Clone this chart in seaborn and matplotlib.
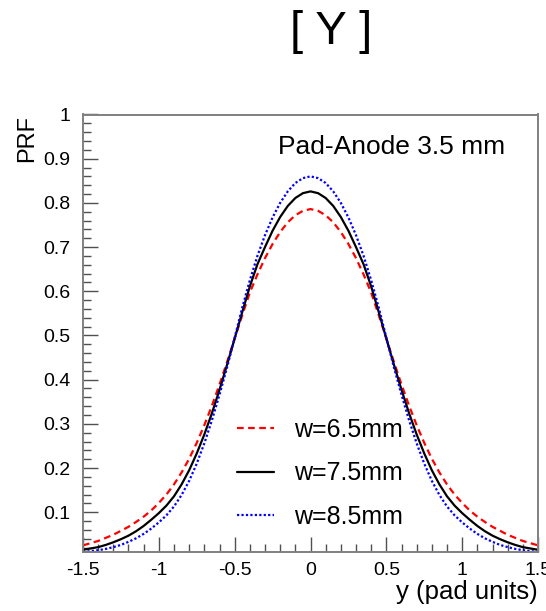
import numpy as np
import pandas as pd
import matplotlib
matplotlib.use("Agg")
import matplotlib.pyplot as plt
from matplotlib.ticker import MultipleLocator, FuncFormatter
import seaborn as sns

# ---- data ----
y_pos = [-1.50, -1.45, -1.40, -1.35, -1.30, -1.25, -1.20, -1.15, -1.10, -1.05,
         -1.00, -0.95, -0.90, -0.85, -0.80, -0.75, -0.70, -0.65, -0.60, -0.55,
         -0.50, -0.45, -0.40, -0.35, -0.30, -0.25, -0.20, -0.15, -0.10, -0.05,
         0.00,
         0.05, 0.10, 0.15, 0.20, 0.25, 0.30, 0.35, 0.40, 0.45, 0.50,
         0.55, 0.60, 0.65, 0.70, 0.75, 0.80, 0.85, 0.90, 0.95, 1.00,
         1.05, 1.10, 1.15, 1.20, 1.25, 1.30, 1.35, 1.40, 1.45, 1.50]

prf_w65 = [0.025, 0.030, 0.035, 0.042, 0.049, 0.058, 0.067, 0.078, 0.090, 0.104,
           0.121, 0.140, 0.163, 0.190, 0.221, 0.257, 0.297, 0.341, 0.389, 0.440,
           0.493, 0.546, 0.597, 0.638, 0.675, 0.707, 0.734, 0.756, 0.772, 0.782,
           0.786,
           0.782, 0.772, 0.756, 0.734, 0.707, 0.675, 0.638, 0.597, 0.546, 0.493,
           0.440, 0.389, 0.341, 0.297, 0.257, 0.221, 0.190, 0.163, 0.140, 0.121,
           0.104, 0.090, 0.078, 0.067, 0.058, 0.049, 0.042, 0.035, 0.030, 0.025]

prf_w75 = [0.015, 0.018, 0.021, 0.026, 0.032, 0.039, 0.047, 0.057, 0.069, 0.083,
           0.098, 0.115, 0.136, 0.163, 0.195, 0.233, 0.276, 0.324, 0.377, 0.434,
           0.493, 0.553, 0.611, 0.661, 0.700, 0.737, 0.768, 0.793, 0.811, 0.822,
           0.826,
           0.822, 0.811, 0.793, 0.768, 0.737, 0.700, 0.661, 0.611, 0.553, 0.493,
           0.434, 0.377, 0.324, 0.276, 0.233, 0.195, 0.163, 0.136, 0.115, 0.098,
           0.083, 0.069, 0.057, 0.047, 0.039, 0.032, 0.026, 0.021, 0.018, 0.015]

prf_w85 = [0.010, 0.012, 0.014, 0.017, 0.021, 0.026, 0.033, 0.041, 0.051, 0.063,
           0.077, 0.093, 0.113, 0.139, 0.171, 0.210, 0.256, 0.308, 0.366, 0.428,
           0.495, 0.563, 0.625, 0.680, 0.727, 0.767, 0.800, 0.826, 0.845, 0.856,
           0.860,
           0.856, 0.845, 0.826, 0.800, 0.767, 0.727, 0.680, 0.625, 0.563, 0.495,
           0.428, 0.366, 0.308, 0.256, 0.210, 0.171, 0.139, 0.113, 0.093, 0.077,
           0.063, 0.051, 0.041, 0.033, 0.026, 0.021, 0.017, 0.014, 0.012, 0.010]

series_labels = ["w=6.5mm", "w=7.5mm", "w=8.5mm"]
title_text = "[ Y ]"
annotation = "Pad-Anode 3.5 mm"
x_label = "y (pad units)"
y_label = "PRF"

# ---- style ----
sns.set_style("white")
plt.rcParams["font.family"] = ["Liberation Sans", "DejaVu Sans"]
plt.rcParams["axes.unicode_minus"] = False
plt.rcParams["text.color"] = "black"
plt.rcParams["axes.labelcolor"] = "black"

fig = plt.figure(figsize=(5.46, 6.11), dpi=100)
ax = fig.add_axes([83 / 546, 1 - 552 / 611, 455 / 546, (552 - 114.5) / 611])

colors = ["#ff0000", "#000000", "#0000ff"]
styles = [(0, (3, 2)), "-", (0, (1, 1))]
widths = [1.6, 1.6, 1.6]

for vals, lab, c, ls, lw in zip([prf_w65, prf_w75, prf_w85], series_labels, colors, styles, widths):
    df = pd.DataFrame({"y": y_pos, "prf": vals})
    sns.lineplot(data=df, x="y", y="prf", ax=ax, color=c, linestyle=ls,
                 linewidth=lw, label=lab, estimator=None, sort=False)

ax.set_xlim(-1.5, 1.5)
ax.set_ylim(0.01, 1.0)

ax.xaxis.set_major_locator(MultipleLocator(0.5))
ax.xaxis.set_minor_locator(MultipleLocator(0.1))
ax.yaxis.set_major_locator(MultipleLocator(0.1))
ax.yaxis.set_minor_locator(MultipleLocator(0.02))


def fmt(v, pos):
    s = f"{v:.1f}"
    if s.endswith(".0"):
        s = s[:-2]
    if s == "-0":
        s = "0"
    return s


ax.xaxis.set_major_formatter(FuncFormatter(fmt))
ax.yaxis.set_major_formatter(FuncFormatter(fmt))

ax.tick_params(axis="both", which="both", direction="in", top=False, right=False,
               bottom=True, left=True,
               color="#505050", labelsize=14, labelcolor="black")
ax.tick_params(axis="both", which="major", length=11, width=1.0)
ax.tick_params(axis="both", which="minor", length=6, width=1.0)
ax.xaxis.set_tick_params(pad=7)
ax.yaxis.set_tick_params(pad=9)

for sp in ax.spines.values():
    sp.set_color("#808080")
    sp.set_linewidth(1.4)

ax.set_xlabel(x_label, fontsize=18.5, loc="right", labelpad=1, color="black")
ax.set_ylabel(y_label, fontsize=17, loc="top", labelpad=4, color="black")

ax.text(0.4286, 0.926, annotation, transform=ax.transAxes, fontsize=19,
        ha="left", va="center", color="black")

fig.text(331 / 546, 1 - 32 / 611, title_text, fontsize=34, ha="center",
         va="center", color="black")

leg = ax.legend(loc="upper left", bbox_to_anchor=(0.31, 0.335), frameon=False,
                fontsize=18, handlelength=1.5, handletextpad=0.8,
                labelspacing=0.78, borderpad=0.0)
for t in leg.get_texts():
    t.set_color("black")

fig.savefig("out.png", dpi=100)
